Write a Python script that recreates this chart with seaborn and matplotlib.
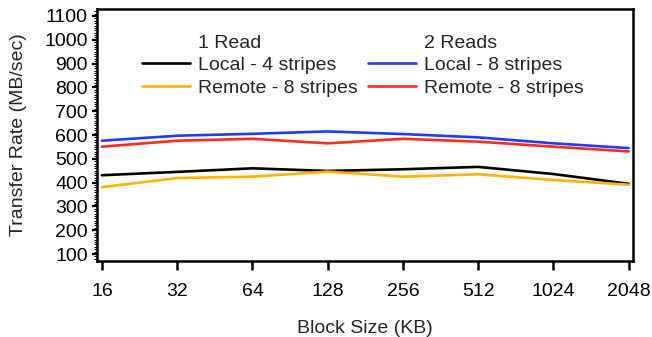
import numpy as np
import pandas as pd
import matplotlib
matplotlib.use("Agg")
import matplotlib.pyplot as plt
from matplotlib.lines import Line2D
from matplotlib.ticker import MultipleLocator
import seaborn as sns

block_sizes = [16, 32, 64, 128, 256, 512, 1024, 2048]

local_4_1read  = [431, 445, 460, 449, 456, 466, 436, 395]
remote_8_1read = [381, 419, 425, 446, 425, 435, 411, 391]
local_8_2read  = [576, 597, 605, 615, 604, 590, 565, 545]
remote_8_2read = [551, 576, 584, 565, 584, 572, 551, 531]

series_names  = ["1R Local 4", "1R Remote 8", "2R Local 8", "2R Remote 8"]
series_values = [local_4_1read, remote_8_1read, local_8_2read, remote_8_2read]
series_colors = ["#000000", "#ffb300", "#1f3bff", "#ff2a1a"]

y_ticks = list(range(100, 1101, 100))

sns.set_style("ticks")
plt.rcParams["font.family"] = ["Liberation Sans", "DejaVu Sans"]

rows = []
for name, vals in zip(series_names, series_values):
    for i, v in enumerate(vals):
        rows.append({"pos": i, "rate": v, "series": name})
df = pd.DataFrame(rows)

fig = plt.figure(figsize=(6.52, 3.37), dpi=100)
ax = fig.add_axes([97 / 652, 1 - 261 / 337, (633 - 97) / 652, (261 - 9) / 337])

sns.lineplot(data=df, x="pos", y="rate", hue="series",
             hue_order=series_names, palette=series_colors,
             linewidth=1.9, legend=False, ax=ax)

ax.set_xlim(-0.066, 7.058)
ax.set_ylim(70.6, 1129.4)
ax.set_xticks(range(len(block_sizes)))
ax.set_xticklabels([str(b) for b in block_sizes])
ax.set_yticks(y_ticks)
ax.yaxis.set_minor_locator(MultipleLocator(10))

for side in ["left", "right", "top", "bottom"]:
    ax.spines[side].set_visible(True)
    ax.spines[side].set_linewidth(1.8)
    ax.spines[side].set_color("black")

ax.tick_params(axis="x", direction="out", length=6.5, width=1.8,
               labelsize=14, pad=9.5, colors="black")
ax.tick_params(axis="y", which="major", direction="out", length=3.6,
               width=1.6, labelsize=14, pad=3, colors="black")
ax.tick_params(axis="y", which="minor", direction="out", length=2,
               width=0.8, colors="black")
ax.tick_params(axis="x", which="minor", bottom=False)

ax.set_xlabel("Block Size (KB)", fontsize=14, labelpad=14)
ax.set_ylabel("Transfer Rate (MB/sec)", fontsize=14, labelpad=12.5)

blank = Line2D([], [], color="none")
handles = [blank,
           Line2D([], [], color=series_colors[0], lw=1.9),
           Line2D([], [], color=series_colors[1], lw=1.9),
           blank,
           Line2D([], [], color=series_colors[2], lw=1.9),
           Line2D([], [], color=series_colors[3], lw=1.9)]
labels = ["1 Read", "Local - 4 stripes", "Remote - 8 stripes",
          "2 Reads", "Local - 8 stripes", "Remote - 8 stripes"]
fig.legend(handles, labels, ncol=2, frameon=False, fontsize=14,
           loc="upper left", bbox_to_anchor=(142 / 652, 1 - 34 / 337),
           borderpad=0, borderaxespad=0, handlelength=2.45,
           handletextpad=0.45, columnspacing=0.5, labelspacing=0.26)

fig.savefig("out.png", dpi=100)
